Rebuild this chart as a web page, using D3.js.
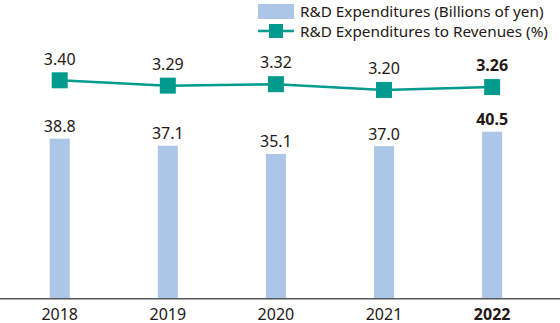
<!DOCTYPE html>
<html>
<head>
<meta charset="utf-8">
<script src="https://cdn.jsdelivr.net/npm/d3@7"></script>
<style>
  body { margin: 0; background: #fff; }
  text { font-family: "Noto Sans", sans-serif; fill: #231815; }
</style>
</head>
<body>
<div id="chart"></div>
<script>
var years = ["2018", "2019", "2020", "2021", "2022"];
var expenditures = [38.8, 37.1, 35.1, 37.0, 40.5];
var ratio = [3.40, 3.29, 3.32, 3.20, 3.26];
var expLabels = ["38.8", "37.1", "35.1", "37.0", "40.5"];
var ratioLabels = ["3.40", "3.29", "3.32", "3.20", "3.26"];

var width = 560, height = 323;
var barColor = "#abc6e7", lineColor = "#009b8c";

var svg = d3.select("#chart").append("svg")
  .attr("width", width)
  .attr("height", height);

var x = d3.scaleBand()
  .domain(years)
  .range([5.65, 546.2])
  .paddingInner(0.815)
  .paddingOuter(0.4075);

var cx = function (d, i) { return x(years[i]) + x.bandwidth() / 2; };

var yBar = d3.scaleLinear().domain([0, 40.5]).range([298.7, 131.7]);
var yLine = d3.scaleLinear().domain([3.2, 3.4]).range([90, 80.3]);

// bars
svg.selectAll(".bar")
  .data(expenditures)
  .enter().append("rect")
  .attr("class", "bar")
  .attr("x", (d, i) => x(years[i]))
  .attr("width", x.bandwidth())
  .attr("y", d => yBar(d))
  .attr("height", d => yBar(0) - yBar(d))
  .attr("fill", barColor);

svg.selectAll(".barLabel")
  .data(expenditures)
  .enter().append("text")
  .attr("x", cx)
  .attr("y", d => yBar(d) - 6.5)
  .attr("text-anchor", "middle")
  .style("font-size", "16px")
  .style("font-weight", (d, i) => i == years.length - 1 ? "bold" : "normal")
  .text((d, i) => expLabels[i]);

// axis line
svg.append("line")
  .attr("x1", 0).attr("x2", width)
  .attr("y1", yBar(0)).attr("y2", yBar(0))
  .attr("stroke", "#595757")
  .attr("stroke-width", 1.5);

svg.selectAll(".year")
  .data(years)
  .enter().append("text")
  .attr("x", d => x(d) + x.bandwidth() / 2)
  .attr("y", 319.5)
  .attr("text-anchor", "middle")
  .style("font-size", "16px")
  .style("font-weight", (d, i) => i == years.length - 1 ? "bold" : "normal")
  .text(d => d);

// ratio line
var line = d3.line()
  .x(cx)
  .y(d => yLine(d));

svg.append("path")
  .datum(ratio)
  .attr("d", line)
  .attr("fill", "none")
  .attr("stroke", lineColor)
  .attr("stroke-width", 2.5);

svg.selectAll(".marker")
  .data(ratio)
  .enter().append("rect")
  .attr("x", (d, i) => cx(d, i) - 8)
  .attr("y", d => yLine(d) - 8)
  .attr("width", 16)
  .attr("height", 16)
  .attr("fill", lineColor);

svg.selectAll(".ratioLabel")
  .data(ratio)
  .enter().append("text")
  .attr("x", cx)
  .attr("y", d => yLine(d) - 15.7)
  .attr("text-anchor", "middle")
  .style("font-size", "16px")
  .style("font-weight", (d, i) => i == years.length - 1 ? "bold" : "normal")
  .text((d, i) => ratioLabels[i]);

// legend
var legend = svg.append("g");
legend.append("rect")
  .attr("x", 258).attr("y", 4)
  .attr("width", 36).attr("height", 15)
  .attr("fill", barColor);
legend.append("text")
  .attr("x", 300).attr("y", 17)
  .style("font-size", "15.3px")
  .text("R&D Expenditures (Billions of yen)");
legend.append("line")
  .attr("x1", 258).attr("x2", 294)
  .attr("y1", 31).attr("y2", 31)
  .attr("stroke", lineColor)
  .attr("stroke-width", 2.5);
legend.append("rect")
  .attr("x", 269).attr("y", 24)
  .attr("width", 14).attr("height", 14)
  .attr("fill", lineColor);
legend.append("text")
  .attr("x", 300).attr("y", 36.5)
  .style("font-size", "15.3px")
  .text("R&D Expenditures to Revenues (%)");
</script>
</body>
</html>
